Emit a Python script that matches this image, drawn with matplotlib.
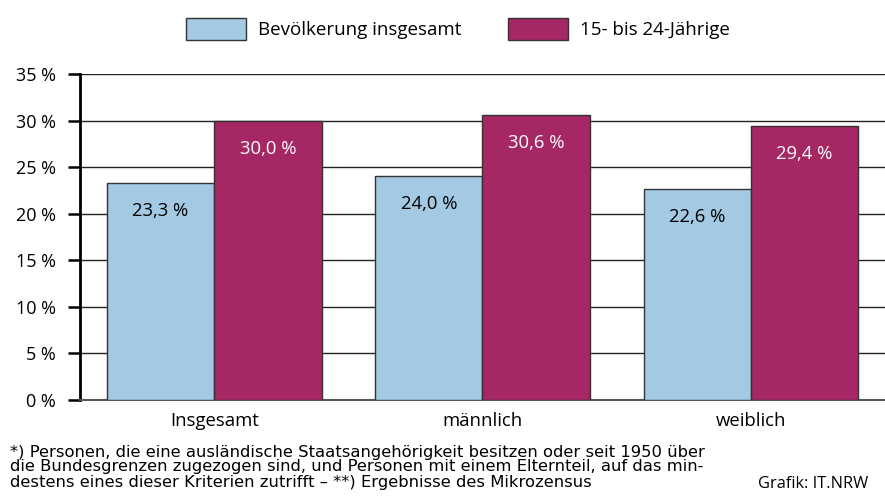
import matplotlib.pyplot as plt
import numpy as np

plt.rcParams['font.family'] = ['Open Sans', 'DejaVu Sans']

# Daten
categories = ['Insgesamt', 'männlich', 'weiblich']
series_names = ['Bevölkerung insgesamt', '15- bis 24-Jährige']
bevoelkerung = [23.3, 24.0, 22.6]
jugendliche = [30.0, 30.6, 29.4]
y_ticks = [0, 5, 10, 15, 20, 25, 30, 35]
footnote = ['*) Personen, die eine ausländische Staatsangehörigkeit besitzen oder seit 1950 über',
            'die Bundesgrenzen zugezogen sind, und Personen mit einem Elternteil, auf das min-',
            'destens eines dieser Kriterien zutrifft – **) Ergebnisse des Mikrozensus']

blue = '#a3c9e3'
purple = '#a52864'
fs = 13.3

fig = plt.figure(figsize=(8.85, 4.99), dpi=100)
ax = fig.add_axes([80 / 885, 1 - 400 / 499, 805 / 885, 326 / 499])

x = np.arange(len(categories))
w = 0.4
b1 = ax.bar(x - w / 2, bevoelkerung, w, color=blue, edgecolor='#333333', linewidth=1, zorder=3, label=series_names[0])
b2 = ax.bar(x + w / 2, jugendliche, w, color=purple, edgecolor='#333333', linewidth=1, zorder=3, label=series_names[1])

# Werte in den Balken
for xi, v in zip(x - w / 2, bevoelkerung):
    ax.text(xi, v - 3, f'{v:.1f} %'.replace('.', ','), ha='center', va='center', fontsize=fs, color='black', zorder=4)
for xi, v in zip(x + w / 2, jugendliche):
    ax.text(xi, v - 3, f'{v:.1f} %'.replace('.', ','), ha='center', va='center', fontsize=fs, color='white', zorder=4)

ax.set_xlim(-0.5, 2.5)
ax.set_ylim(0, 35)
ax.set_yticks(y_ticks)
ax.set_yticklabels([f'{t} %' for t in y_ticks], fontsize=13)
ax.set_xticks(x)
ax.set_xticklabels(categories, fontsize=fs)
ax.tick_params(axis='x', length=0, pad=9)
ax.tick_params(axis='y', length=8.6, width=1.8, color='black', pad=9)
ax.yaxis.grid(True, color='#222222', linewidth=1, zorder=0)

for s in ['top', 'right']:
    ax.spines[s].set_visible(False)
ax.spines['left'].set_linewidth(2)
ax.spines['bottom'].set_color('#555555')
ax.spines['bottom'].set_linewidth(1.5)

fig.legend(handles=[b1, b2], loc='center', bbox_to_anchor=(458 / 885, 1 - 29 / 499), ncol=2, frameon=False,
           fontsize=13.5, handlelength=3.2, handleheight=1.4, handletextpad=0.65, columnspacing=2.45,
           borderpad=0, borderaxespad=0)

# Fußnote, Zeile für Zeile
for i, line in enumerate(footnote):
    fig.text(10 / 885, 1 - (452 + 15 * i) / 499, line, fontsize=11.8, va='center', ha='left',
             family=['DejaVu Sans'])
fig.text(868 / 885, 1 - 484 / 499, 'Grafik: IT.NRW', fontsize=11.8, ha='right', va='center')

fig.savefig('out.png', dpi=100)
